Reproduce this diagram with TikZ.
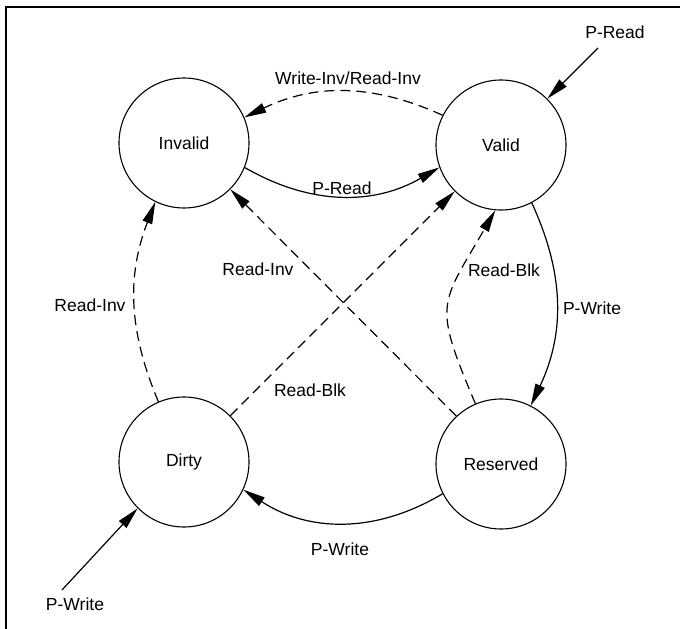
\documentclass[tikz,border=0pt]{standalone}
\usepackage{fontspec}
\setmainfont{Liberation Sans}
\usetikzlibrary{arrows.meta}
\tikzset{
  state/.style={draw, circle, line width=1.1pt, minimum size=130pt, inner sep=0pt, font=\fontsize{17.5}{20}\selectfont},
  lbl/.style={inner sep=1pt, font=\fontsize{17.5}{20}\selectfont},
  solidarrow/.style={line width=1.2pt, -{Triangle[length=22pt,width=10pt]}},
  dashedarrow/.style={line width=1.2pt, dash pattern=on 10pt off 6pt, -{Triangle[length=22pt,width=10pt]}},
  framestyle/.style={line width=1.8pt}
}
\begin{document}
\begin{tikzpicture}[x=1pt,y=1pt]
\useasboundingbox (0,0) rectangle (680,-629);
\draw[framestyle] (6,-629) -- (6,-7) -- (680,-7);

\node[state] (invalid) at (184,-143) {Invalid};
\node[state] (valid) at (501,-145) {Valid};
\node[state] (dirty) at (184,-462) {Dirty};
\node[state] (reserved) at (501,-464) {Reserved};

\coordinate (prsrc) at (598,-48);
\coordinate (pwsrc) at (62,-590);

\draw[dashedarrow] (valid.153) to[bend right=25] (invalid.23);
\draw[solidarrow] (invalid.-22) to[bend right=30] (valid.200);
\draw[solidarrow] (valid.-62) to[bend left=25] (reserved.63);
\draw[dashedarrow] (reserved.113) to[out=113,in=240,looseness=1.45] (valid.265);
\draw[solidarrow] (reserved.207) to[bend left=32] (dirty.335);
\draw[dashedarrow] (dirty.113) to[bend left=22] (invalid.244);
\draw[dashedarrow] (reserved.133) -- (invalid.-45);
\draw[dashedarrow] (dirty.45) -- (valid.225);
\draw[solidarrow] (prsrc) -- (valid.45);
\draw[solidarrow] (pwsrc) -- (dirty.225);

\node[lbl] (lwi) at (348,-78) {Write-Inv/Read-Inv};
\node[lbl] (lpr) at (342,-188) {P-Read};
\node[lbl] (lpw1) at (592,-308) {P-Write};
\node[lbl] (lrb1) at (504,-270) {Read-Blk};
\node[lbl] (lpw2) at (340,-549) {P-Write};
\node[lbl] (lri1) at (90,-305) {Read-Inv};
\node[lbl] (lri2) at (258,-269) {Read-Inv};
\node[lbl] (lrb2) at (310,-390) {Read-Blk};
\node[lbl] (lpr0) at (615,-32) {P-Read};
\node[lbl] (lpw0) at (75,-604) {P-Write};
\end{tikzpicture}
\end{document}
